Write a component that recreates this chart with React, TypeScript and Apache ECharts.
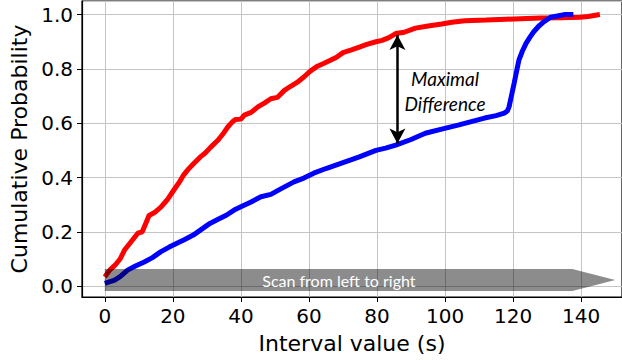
import React, { useEffect, useRef } from "react";
import * as echarts from "echarts";

// Red ECDF (interval value s, cumulative probability)
const redCurve: [number, number][] = [
  [0, 0.034], [1.5, 0.06], [3, 0.077], [4.5, 0.1], [5.8, 0.133], [7.5, 0.16], [9.7, 0.195],
  [11, 0.2], [12, 0.23], [13, 0.26], [14.5, 0.27], [16.4, 0.29], [18.5, 0.32], [20.3, 0.354],
  [22, 0.385], [23.2, 0.41], [24.5, 0.43], [26, 0.45], [28, 0.475], [29.5, 0.49], [31, 0.51],
  [33.3, 0.538], [35, 0.565], [36.2, 0.587], [37.5, 0.605], [38.5, 0.614], [40, 0.615],
  [41, 0.63], [43, 0.64], [45, 0.66], [47, 0.675], [48.8, 0.69], [50.7, 0.695], [52.7, 0.72],
  [54.5, 0.735], [56.5, 0.75], [58.5, 0.77], [60.4, 0.792], [62.5, 0.81], [64.3, 0.82],
  [66, 0.83], [68.1, 0.843], [70, 0.86], [72.5, 0.87], [74.8, 0.88], [77, 0.89], [79.7, 0.9],
  [81.5, 0.905], [83.5, 0.915], [85.5, 0.93], [88, 0.935], [91.3, 0.95], [95, 0.958],
  [99, 0.965], [102, 0.972], [105.8, 0.977], [112, 0.98], [118, 0.983], [128, 0.987],
  [134, 0.988], [139.7, 0.99], [142, 0.993], [145.5, 1.0],
];

// Blue ECDF
const blueCurve: [number, number][] = [
  [0, 0.01], [2.9, 0.022], [4.5, 0.035], [6.7, 0.059], [9, 0.074], [11.6, 0.089], [14, 0.105],
  [16.4, 0.126], [18.8, 0.143], [21.2, 0.158], [23.5, 0.172], [26, 0.188], [28.5, 0.21],
  [30.9, 0.231], [33.3, 0.246], [35.7, 0.261], [38, 0.28], [40, 0.292], [43, 0.31],
  [45.9, 0.329], [48.8, 0.338], [52, 0.36], [55.6, 0.384], [58.5, 0.398], [61.4, 0.416],
  [65.2, 0.434], [70, 0.455], [74.8, 0.476], [79.7, 0.5], [82.5, 0.508], [85.5, 0.519],
  [90, 0.54], [94.2, 0.563], [99, 0.578], [103.8, 0.593], [108, 0.607], [111.6, 0.619],
  [115, 0.628], [117.4, 0.637], [118.3, 0.645], [118.8, 0.66], [119.5, 0.7], [120.3, 0.747],
  [121, 0.79], [121.7, 0.832], [122.7, 0.865], [123.8, 0.894], [125, 0.918], [126, 0.936],
  [127.5, 0.957], [129, 0.973], [131, 0.99], [133, 0.995], [135, 1.0], [137.7, 1.0],
];

// Annotations (data coordinates)
const maxDiffArrow = { x: 86, top: 0.925, bottom: 0.525 };
const maxDiffLabel = { x: 100, y: 0.72, lines: ["Maximal", "Difference"] };
const scanBand = { start: 0, bodyEnd: 137.4, tip: 150, top: 0.063, bottom: -0.018, text: "Scan from left to right", textX: 68.8 };

const xRange = { min: -6.7, max: 152 };
const yRange = { min: -0.04, max: 1.05 };

export default function App() {
  const ref = useRef<HTMLDivElement>(null);
  useEffect(() => {
    if (!ref.current) return;
    const chart = echarts.init(ref.current, null, { renderer: "svg" });
    const tickFont = { fontSize: 20, fontFamily: "DejaVu Sans", color: "#000" };
    chart.setOption({
      animation: false,
      backgroundColor: "#fff",
      grid: { left: 82, right: -6, top: 1, bottom: 63, show: true, borderColor: "#000", borderWidth: 1.2 },
      xAxis: {
        type: "value",
        min: xRange.min,
        max: xRange.max,
        splitNumber: 8,
        name: "Interval value (s)",
        nameLocation: "middle",
        nameGap: 35,
        nameTextStyle: { fontSize: 22, fontFamily: "DejaVu Sans", color: "#000" },
        axisLine: { show: true, onZero: false, lineStyle: { color: "#000", width: 1.2 } },
        axisTick: { show: true, length: 5, lineStyle: { color: "#000" } },
        axisLabel: { ...tickFont, margin: 9, showMinLabel: false, showMaxLabel: false, formatter: (v: number) => (Math.abs(v % 20) < 1e-6 ? String(v) : "") },
        splitLine: { show: true, lineStyle: { color: "#c4c4c4", width: 1 } },
      },
      yAxis: {
        type: "value",
        min: yRange.min,
        max: yRange.max,
        splitNumber: 5,
        name: "Cumulative Probability",
        nameLocation: "middle",
        nameGap: 52,
        nameTextStyle: { fontSize: 22, fontFamily: "DejaVu Sans", color: "#000" },
        axisLine: { show: true, onZero: false, lineStyle: { color: "#000", width: 1.2 } },
        axisTick: { show: true, length: 5, lineStyle: { color: "#000" } },
        axisLabel: { ...tickFont, margin: 9, showMinLabel: false, showMaxLabel: false, formatter: (v: number) => (Math.abs(Math.round(v * 5) - v * 5) < 1e-6 ? v.toFixed(1) : "") },
        splitLine: { show: true, lineStyle: { color: "#c4c4c4", width: 1 } },
      },
      series: [
        {
          type: "line",
          data: redCurve,
          showSymbol: false,
          lineStyle: { color: "#ff0000", width: 5 },
          itemStyle: { color: "#ff0000" },
          z: 3,
          markLine: {
            silent: true,
            symbol: ["arrow", "arrow"],
            symbolSize: [12, 15],
            label: { show: false },
            lineStyle: { color: "#000", width: 2.5, type: "solid" },
            data: [[{ coord: [maxDiffArrow.x, maxDiffArrow.top] }, { coord: [maxDiffArrow.x, maxDiffArrow.bottom] }]],
          },
        },
        {
          type: "line",
          data: blueCurve,
          showSymbol: false,
          lineStyle: { color: "#0000ff", width: 5 },
          itemStyle: { color: "#0000ff" },
          z: 3,
        },
        {
          type: "custom",
          silent: true,
          clip: false,
          z: 10,
          data: [[maxDiffLabel.x, maxDiffLabel.y]],
          renderItem: (_p: any, api: any) => {
            const c = api.coord([maxDiffLabel.x, maxDiffLabel.y]);
            return {
              type: "text",
              x: c[0],
              y: c[1],
              style: {
                text: maxDiffLabel.lines.join("\n"),
                fill: "#000",
                fontSize: 19,
                fontStyle: "italic",
                fontFamily: "Lato",
                lineHeight: 25,
                align: "center",
                verticalAlign: "middle",
              },
            };
          },
        },
        {
          type: "custom",
          silent: true,
          clip: false,
          z: 10,
          data: [[scanBand.start, scanBand.top]],
          renderItem: (_p: any, api: any) => {
            const mid = (scanBand.top + scanBand.bottom) / 2;
            const pts = [
              api.coord([scanBand.start, scanBand.top]),
              api.coord([scanBand.bodyEnd, scanBand.top]),
              api.coord([scanBand.tip, mid]),
              api.coord([scanBand.bodyEnd, scanBand.bottom]),
              api.coord([scanBand.start, scanBand.bottom]),
            ];
            const t = api.coord([scanBand.textX, mid]);
            return {
              type: "group",
              children: [
                { type: "polygon", shape: { points: pts }, style: { fill: "rgba(0,0,0,0.45)" } },
                {
                  type: "text",
                  x: t[0],
                  y: t[1],
                  style: { text: scanBand.text, fill: "#fff", fontSize: 16, fontFamily: "Lato", align: "center", verticalAlign: "middle" },
                },
              ],
            };
          },
        },
      ],
    });
    return () => chart.dispose();
  }, []);
  return <div ref={ref} style={{ width: 622, height: 360, position: "absolute", left: 0, top: 0 }} />;
}
